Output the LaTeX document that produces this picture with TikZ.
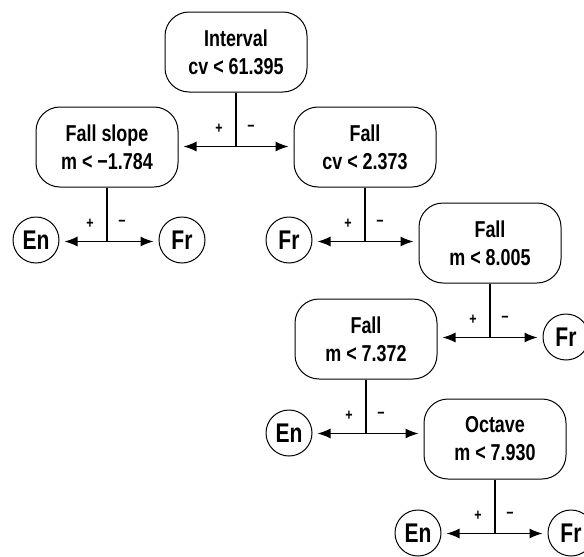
\documentclass[tikz,border=0pt]{standalone}
\usepackage{fontspec}
\setmainfont{Liberation Sans}[FakeStretch=0.78]
\usetikzlibrary{arrows.meta}

\begin{document}
\begin{tikzpicture}[
    x=1pt, y=-1pt,
    >={Latex[length=13pt,width=10pt]},
    test/.style={draw, line width=1pt, rounded corners=24pt,
        minimum width=142pt, minimum height=80pt, align=center,
        font=\fontsize{23}{28}\selectfont\bfseries},
    leaf/.style={draw, circle, line width=1pt, minimum size=46pt,
        inner sep=0pt, font=\fontsize{27}{30}\selectfont\bfseries},
    stem/.style={line width=1.3pt},
    branch/.style={->, line width=1.3pt, shorten >=5pt},
    sign/.style={font=\fontsize{16}{16}\selectfont\bfseries}]

\useasboundingbox (0,0) rectangle (584,557);

% tests
\node[test] (root) at (236,52)  {Interval\\cv < 61.395};
\node[test] (fs)   at (107,147) {Fall slope\\m < −1.784};
\node[test] (fc)   at (365,147) {Fall\\cv < 2.373};
\node[test] (f8)   at (490,243) {Fall\\m < 8.005};
\node[test] (f7)   at (366,339) {Fall\\m < 7.372};
\node[test] (oc)   at (495,439) {Octave\\m < 7.930};

% leaves
\node[leaf] (en1) at (36,240)  {En};
\node[leaf] (fr1) at (182,240) {Fr};
\node[leaf] (fr2) at (289,240) {Fr};
\node[leaf] (fr3) at (566,337) {Fr};
\node[leaf] (en2) at (289,433) {En};
\node[leaf] (en3) at (418,533) {En};
\node[leaf] (fr4) at (571,533) {Fr};

% root
\draw[stem] (root.south) -- ++(0,54) coordinate (s0);
\draw[branch] (s0) -- (s0 -| fs.east);
\draw[branch] (s0) -- (s0 -| fc.west);
\node[sign] at ([shift={(-17,-18)}]s0) {+};
\node[sign] at ([shift={(15,-18)}]s0) {−};

% fall slope
\draw[stem] (fs.south) -- ++(0,54) coordinate (s1);
\draw[branch] (s1) -- (s1 -| en1.east);
\draw[branch] (s1) -- (s1 -| fr1.west);
\node[sign] at ([shift={(-17,-18)}]s1) {+};
\node[sign] at ([shift={(15,-18)}]s1) {−};

% fall cv
\draw[stem] (fc.south) -- ++(0,54) coordinate (s2);
\draw[branch] (s2) -- (s2 -| fr2.east);
\draw[branch] (s2) -- (s2 -| f8.west);
\node[sign] at ([shift={(-17,-18)}]s2) {+};
\node[sign] at ([shift={(15,-18)}]s2) {−};

% fall m 8.005
\draw[stem] (f8.south) -- ++(0,54) coordinate (s3);
\draw[branch] (s3) -- (s3 -| f7.east);
\draw[branch] (s3) -- (s3 -| fr3.west);
\node[sign] at ([shift={(-17,-18)}]s3) {+};
\node[sign] at ([shift={(15,-18)}]s3) {−};

% fall m 7.372
\draw[stem] (f7.south) -- ++(0,54) coordinate (s4);
\draw[branch] (s4) -- (s4 -| en2.east);
\draw[branch] (s4) -- (s4 -| oc.west);
\node[sign] at ([shift={(-17,-18)}]s4) {+};
\node[sign] at ([shift={(15,-18)}]s4) {−};

% octave
\draw[stem] (oc.south) -- ++(0,54) coordinate (s5);
\draw[branch] (s5) -- (s5 -| en3.east);
\draw[branch] (s5) -- (s5 -| fr4.west);
\node[sign] at ([shift={(-17,-18)}]s5) {+};
\node[sign] at ([shift={(15,-18)}]s5) {−};
\end{tikzpicture}
\end{document}
